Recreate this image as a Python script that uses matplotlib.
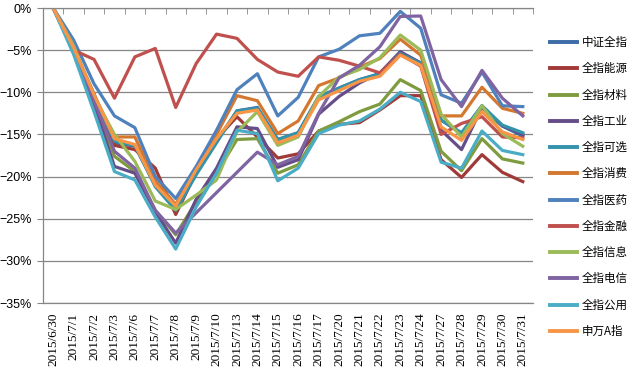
import numpy as np
import matplotlib
matplotlib.use("Agg")
import matplotlib.pyplot as plt
from matplotlib.ticker import PercentFormatter

dates = ['2015/6/30', '2015/7/1', '2015/7/2', '2015/7/3', '2015/7/6', '2015/7/7',
         '2015/7/8', '2015/7/9', '2015/7/10', '2015/7/13', '2015/7/14', '2015/7/15',
         '2015/7/16', '2015/7/17', '2015/7/20', '2015/7/21', '2015/7/22', '2015/7/23',
         '2015/7/24', '2015/7/27', '2015/7/28', '2015/7/29', '2015/7/30', '2015/7/31']

# cumulative return, %
zz_all = [0, -4.8, -10.2, -16.0, -16.4, -21.0, -24.0, -19.6, -15.8, -12.2, -11.8, -15.6,
          -14.8, -10.5, -9.5, -8.5, -7.8, -5.2, -6.5, -13.3, -14.9, -11.6, -14.0, -15.2]
energy = [0, -4.8, -10.5, -16.3, -16.8, -19.0, -24.5, -19.5, -15.5, -12.9, -15.3, -17.8,
          -17.3, -14.6, -13.8, -13.6, -12.1, -10.4, -10.4, -18.0, -20.1, -17.4, -19.5, -20.6]
materials = [0, -5.0, -11.0, -17.6, -19.4, -24.0, -26.9, -23.0, -19.6, -15.6, -15.5, -19.6,
             -18.6, -14.6, -13.5, -12.3, -11.4, -8.5, -9.8, -17.0, -19.3, -15.5, -17.9, -18.4]
industry = [0, -5.0, -11.5, -18.8, -19.6, -24.2, -27.9, -22.7, -19.0, -14.1, -14.3, -18.9,
            -18.0, -12.6, -10.5, -8.9, -7.7, -5.2, -6.6, -14.5, -16.8, -11.8, -14.0, -15.0]
discretionary = [0, -5.0, -10.5, -15.8, -16.3, -21.2, -24.0, -19.8, -16.0, -12.2, -11.9, -15.6,
                 -14.8, -10.6, -9.5, -8.5, -7.8, -5.4, -6.6, -13.3, -14.8, -11.6, -13.9, -14.8]
staples = [0, -4.8, -10.3, -15.3, -15.3, -20.5, -23.3, -19.0, -15.0, -10.4, -11.0, -14.9,
           -13.4, -9.2, -8.3, -7.0, -6.0, -3.7, -5.6, -12.8, -12.8, -9.4, -11.9, -12.5]
health = [0, -3.8, -9.0, -12.8, -14.2, -20.0, -22.6, -18.8, -14.5, -9.7, -7.8, -12.8,
          -10.6, -5.8, -4.9, -3.3, -3.0, -0.4, -2.4, -10.3, -11.3, -7.6, -11.6, -11.7]
finance = [0, -5.0, -6.1, -10.7, -5.8, -4.8, -11.8, -6.6, -3.1, -3.6, -6.1, -7.6,
           -8.1, -5.8, -6.2, -6.9, -7.7, -5.5, -6.9, -15.0, -13.7, -12.9, -15.3, -15.4]
info = [0, -4.5, -10.5, -15.0, -18.2, -22.9, -23.9, -22.2, -20.4, -14.7, -12.3, -16.3,
        -15.3, -10.5, -8.2, -7.3, -5.9, -3.2, -5.0, -12.6, -15.3, -11.6, -14.9, -16.4]
telecom = [0, -4.8, -11.0, -17.0, -19.0, -24.0, -26.7, -24.3, -21.9, -19.5, -17.1, -18.6,
           -17.6, -12.5, -8.3, -6.8, -4.6, -1.0, -0.95, -8.5, -11.7, -7.4, -10.7, -12.8]
utilities = [0, -5.5, -12.3, -19.4, -20.4, -24.8, -28.6, -23.6, -19.6, -14.5, -14.9, -20.5,
             -19.0, -14.9, -13.9, -13.4, -12.0, -10.0, -11.1, -18.3, -19.0, -14.6, -16.9, -17.4]
sw_a = [0, -4.7, -10.3, -15.5, -16.2, -21.0, -23.5, -19.2, -15.5, -12.5, -12.1, -16.0,
        -15.1, -10.9, -9.8, -8.7, -8.1, -5.6, -6.8, -14.1, -15.7, -12.3, -14.7, -15.6]

names = ['中证全指', '全指能源', '全指材料', '全指工业', '全指可选', '全指消费',
         '全指医药', '全指金融', '全指信息', '全指电信', '全指公用', '申万A指']
series = [zz_all, energy, materials, industry, discretionary, staples,
          health, finance, info, telecom, utilities, sw_a]
colors = ['#3C6BA5', '#A03A38', '#7E9B3F', '#654D8A', '#3393AB', '#D4782F',
          '#4F81BD', '#C0504D', '#9BBB59', '#8064A2', '#4BACC6', '#F79646']

grid_c = '#868686'

fig = plt.figure(figsize=(6.33, 3.72), dpi=100)
ax = fig.add_axes([43 / 633, 1 - 303 / 372, 490 / 633, 295 / 372])

x = np.arange(len(dates))
for vals, name, c in zip(series, names, colors):
    ax.plot(x, vals, color=c, lw=2.3, label=name, solid_joinstyle='round')

ax.set_xlim(-0.5, len(dates) - 0.5)
ax.set_ylim(-35, 0)
ax.set_yticks(np.arange(-35, 1, 5))
ax.yaxis.set_major_formatter(PercentFormatter(decimals=0))
ax.grid(axis='y', color=grid_c, lw=0.9)
ax.set_axisbelow(True)

ax.set_xticks(x)
ax.set_xticklabels(dates, rotation=90, family='Liberation Serif', fontsize=9.5)
ax.set_xticks(np.arange(-0.5, len(dates), 1), minor=True)
ax.tick_params(axis='x', which='major', length=0, pad=7)
ax.tick_params(axis='x', which='minor', bottom=False, top=True, direction='in',
               length=4, color=grid_c)
ax.tick_params(axis='y', length=4, color=grid_c, pad=4)
for lab in ax.get_yticklabels():
    lab.set_family('Liberation Sans')
    lab.set_fontsize(9)

ax.spines['right'].set_visible(False)
for s in ['left', 'top', 'bottom']:
    ax.spines[s].set_color(grid_c)
    ax.spines[s].set_linewidth(0.9)

leg = fig.legend(loc='center left', bbox_to_anchor=(545 / 633, 1 - 187 / 372),
                 frameon=False, prop={'family': ['Noto Sans CJK SC', 'DejaVu Sans'], 'size': 8.3},
                 handlelength=2.4, handletextpad=0.4, labelspacing=1.15, borderaxespad=0)
for line in leg.get_lines():
    line.set_linewidth(2.8)

fig.savefig('out.png', dpi=100)
